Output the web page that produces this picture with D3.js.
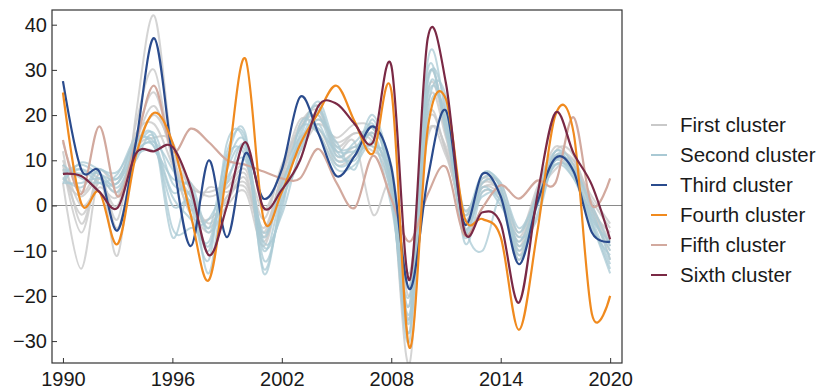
<!DOCTYPE html>
<html>
<head>
<meta charset="utf-8">
<script src="https://cdn.jsdelivr.net/npm/d3@7"></script>
<style>
  body { margin: 0; background: #fff; }
  svg text { font-family: "Liberation Sans", Arial, sans-serif; fill: #1a1a1a; }
</style>
</head>
<body>
<svg id="chart" width="825" height="390"></svg>
<script>
// years on the x axis
const years = d3.range(1990, 2021);
const xTicks = [1990, 1996, 2002, 2008, 2014, 2020];
const yTicks = [-30, -20, -10, 0, 10, 20, 30, 40];

// first cluster (light gray lines)
const first1 = [5, -14, 6, -11, 20, 42, 12, -2, -3, 1, 6, -8, 6, 17, 20, 13, 16, 14, 5, -35, 22, 15, -3, 4, 2, -8, 2, 10, 9, -1, -6];
const first2 = [12, -4, 7, -3, 18, 30, 10, 2, -5, 2, 4, -6, 7, 18, 21, 12, 14, -2, 4, -25, 18, 12, -2, 5, 3, -7, 3, 11, 10, 0, -8];
const first3 = [8, -2, 5, 0, 15, 25, 12, 4, 3, 5, 9, -1, 8, 15, 17, 10, 12, 16, 8, -20, 15, 13, -4, 6, 4, -10, 1, 9, 8, 1, -5];
const first4 = [10, 0, 4, 2, 14, 22, 11, 0, -6, 0, 3, -9, 5, 14, 19, 14, 16, 15, 4, -28, 25, 16, -5, 3, 1, -12, 0, 12, 11, -2, -10];
const first5 = [6, 2, 6, 3, 13, 20, 13, 5, 2, 4, 8, -3, 9, 17, 22, 11, 13, 12, 7, -18, 16, 11, -1, 5, 5, -6, 4, 13, 9, 2, -4];
const first6 = [14, 3, 8, 5, 16, 18, 9, -1, 4, 3, 5, -5, 6, 12, 18, 15, 18, 17, 9, -15, 20, 12, -2, 4, 3, -9, 2, 8, 10, 0, -12];
const first7 = [9, -6, 7, -5, 12, 15, 14, 3, -4, 2, 7, -7, 7, 19, 16, 9, 11, 13, 3, -22, 28, 18, -3, 6, 2, -11, 1, 11, 8, -1, -9];

// second cluster (light blue lines)
const second1 = [5, 9.5, 8, 7.5, 14, 15, -7, 3, -15, 10, 16, -15, 2, 14, 20, 10, 12, 18, 4, -30, 32, 20, -6, 7, 4, -9, 0, 12, 7, -4, -15];
const second2 = [7, 9, 7, 6, 13, 16, 5, 2, -10, 12, 15, -12, 0, 16, 22, 12, 10, 16, 2, -25, 27, 22, -4, -10, 2, -6, 2, 11, 8, -3, -13];
const second3 = [6, 8, 6, 5, 12, 14, 8, 0, -12, 14, 14, -8, -2, 12, 18, 9, 11, 20, 6, -28, 25, 18, -7, 5, 3, -11, -2, 10, 7, -5, -11];
const second4 = [9, 6, 5, 7, 15, 13, 2, -3, -8, 8, 12, -10, 3, 15, 23, 13, 13, 15, 0, -20, 22, 24, -8, 3, 1, -8, 1, 9, 6, -2, -10];
const second5 = [8, 7, 7, 4, 11, 12, 6, 4, -6, 6, 10, -6, 4, 17, 16, 8, 9, 14, 5, -22, 30, 16, -2, 6, 4, -12, 3, 12, 9, -1, -12];
const second6 = [5, 5, 6, 3, 10, 15, -5, -5, -3, 5, 13, -14, 1, 10, 21, 11, 14, 17, 7, -18, 24, 19, -5, 4, 0, -7, -3, 11, 8, 0, -9];
const second7 = [6, 4, 8, 6, 14, 14, 3, 5, -5, 11, 11, -7, 5, 13, 19, 14, 8, 19, 3, -24, 20, 21, -1, 7, 5, -5, 2, 10, 6, -4, -14];
const second8 = [7, 8, 5, 5, 12, 13, 0, 1, -9, 9, 14, -9, -1, 18, 17, 12, 12, 13, 8, -26, 28, 17, -3, 2, 2, -10, 0, 9, 7, -3, -8];

// single-member clusters
const third = [27.5, 8, 7.5, -5.5, 14, 37, 11, -9, 10, -7, 11.5, 1.5, 8, 24, 16, 6.5, 11, 17.5, 8.5, -18.5, 6, 21, -4, 7, 2, -13, 0.5, 10.5, 7.5, -6, -8];
const fourth = [25, 0.5, 3, -8.5, 11, 20.5, 14, -2, -16.5, 8, 32.5, -3, 3, 13.5, 20.5, 26.5, 18.5, 11.5, 25.5, -31.5, 17, 23.5, -2.5, -3, -7, -27.5, -6, 20, 16, -24, -20];
const fifth = [14.5, 2.5, 17.5, 2, 14, 26.5, 12, 17, 14, 10, 9, 7.5, 6, 6, 12.5, 5, -0.5, 11, 1.5, -8, 2.5, 8.5, -6.5, -0.5, 4.5, 1.5, 5.5, 5, 19.5, 0, 6];
const sixth = [7, 6.5, 3, -0.5, 11.5, 12, 13, 4, -11, 0, 14, -0.5, 3.5, 10, 22, 22.5, 18, 14, 31, -16.5, 37, 27, -5.5, -1.5, -4, -21.5, 2, 20.5, 11.5, 4.5, -7.5];

const legendNames = ["First cluster", "Second cluster", "Third cluster", "Fourth cluster", "Fifth cluster", "Sixth cluster"];
const legendColors = ["#c9c9c9", "#a9c9d4", "#2a4b8d", "#f08a1e", "#d2a99e", "#7a2945"];

const firstCluster = [first1, first2, first3, first4, first5, first6, first7];
const secondCluster = [second1, second2, second3, second4, second5, second6, second7, second8];

const svg = d3.select("#chart");
const plotLeft = 52, plotRight = 622, plotTop = 10, plotBottom = 363;

const x = d3.scaleLinear().domain([1989.4, 2020.65]).range([plotLeft, plotRight]);
const y = d3.scaleLinear().domain([-34.85, 43.25]).range([plotBottom, plotTop]);

const line = d3.line()
  .x((d, i) => x(years[i]))
  .y(d => y(d))
  .curve(d3.curveCatmullRom.alpha(0));

svg.append("clipPath").attr("id", "clip")
  .append("rect").attr("x", plotLeft).attr("y", plotTop)
  .attr("width", plotRight - plotLeft).attr("height", plotBottom - plotTop);

const lines = svg.append("g").attr("clip-path", "url(#clip)");

// zero line
lines.append("line")
  .attr("x1", plotLeft).attr("x2", plotRight)
  .attr("y1", y(0)).attr("y2", y(0))
  .attr("stroke", "#8a8a8a").attr("stroke-width", 1.2);

firstCluster.forEach(s => {
  lines.append("path").attr("d", line(s))
    .attr("fill", "none").attr("stroke", legendColors[0])
    .attr("stroke-width", 2).attr("stroke-opacity", 0.8);
});
secondCluster.forEach(s => {
  lines.append("path").attr("d", line(s))
    .attr("fill", "none").attr("stroke", legendColors[1])
    .attr("stroke-width", 2).attr("stroke-opacity", 0.75);
});

[[fifth, 4], [third, 2], [fourth, 3], [sixth, 5]].forEach(([s, c]) => {
  lines.append("path").attr("d", line(s))
    .attr("fill", "none").attr("stroke", legendColors[c])
    .attr("stroke-width", 2.2);
});

// axes
const xAxis = svg.append("g")
  .attr("transform", "translate(0," + plotBottom + ")")
  .call(d3.axisBottom(x).tickValues(xTicks).tickFormat(d3.format("d")).tickSize(-5).tickPadding(9));
xAxis.select(".domain").remove();

const yAxis = svg.append("g")
  .attr("transform", "translate(" + plotLeft + ",0)")
  .call(d3.axisLeft(y).tickValues(yTicks).tickSize(-5).tickPadding(5));
yAxis.select(".domain").remove();

svg.selectAll(".tick line").attr("stroke", "#333");
svg.selectAll(".tick text").style("font-size", "20px").attr("fill", "#1a1a1a");

// frame
svg.append("rect")
  .attr("x", plotLeft).attr("y", plotTop)
  .attr("width", plotRight - plotLeft).attr("height", plotBottom - plotTop)
  .attr("fill", "none").attr("stroke", "#333").attr("stroke-width", 1.2);

// legend
const legend = svg.append("g");
legendNames.forEach((name, i) => {
  const ly = 125 + i * 30;
  legend.append("line")
    .attr("x1", 651).attr("x2", 667).attr("y1", ly).attr("y2", ly)
    .attr("stroke", legendColors[i]).attr("stroke-width", 2);
  legend.append("text")
    .attr("x", 680).attr("y", ly).attr("dy", "0.35em")
    .style("font-size", "20.5px")
    .text(name);
});
</script>
</body>
</html>
